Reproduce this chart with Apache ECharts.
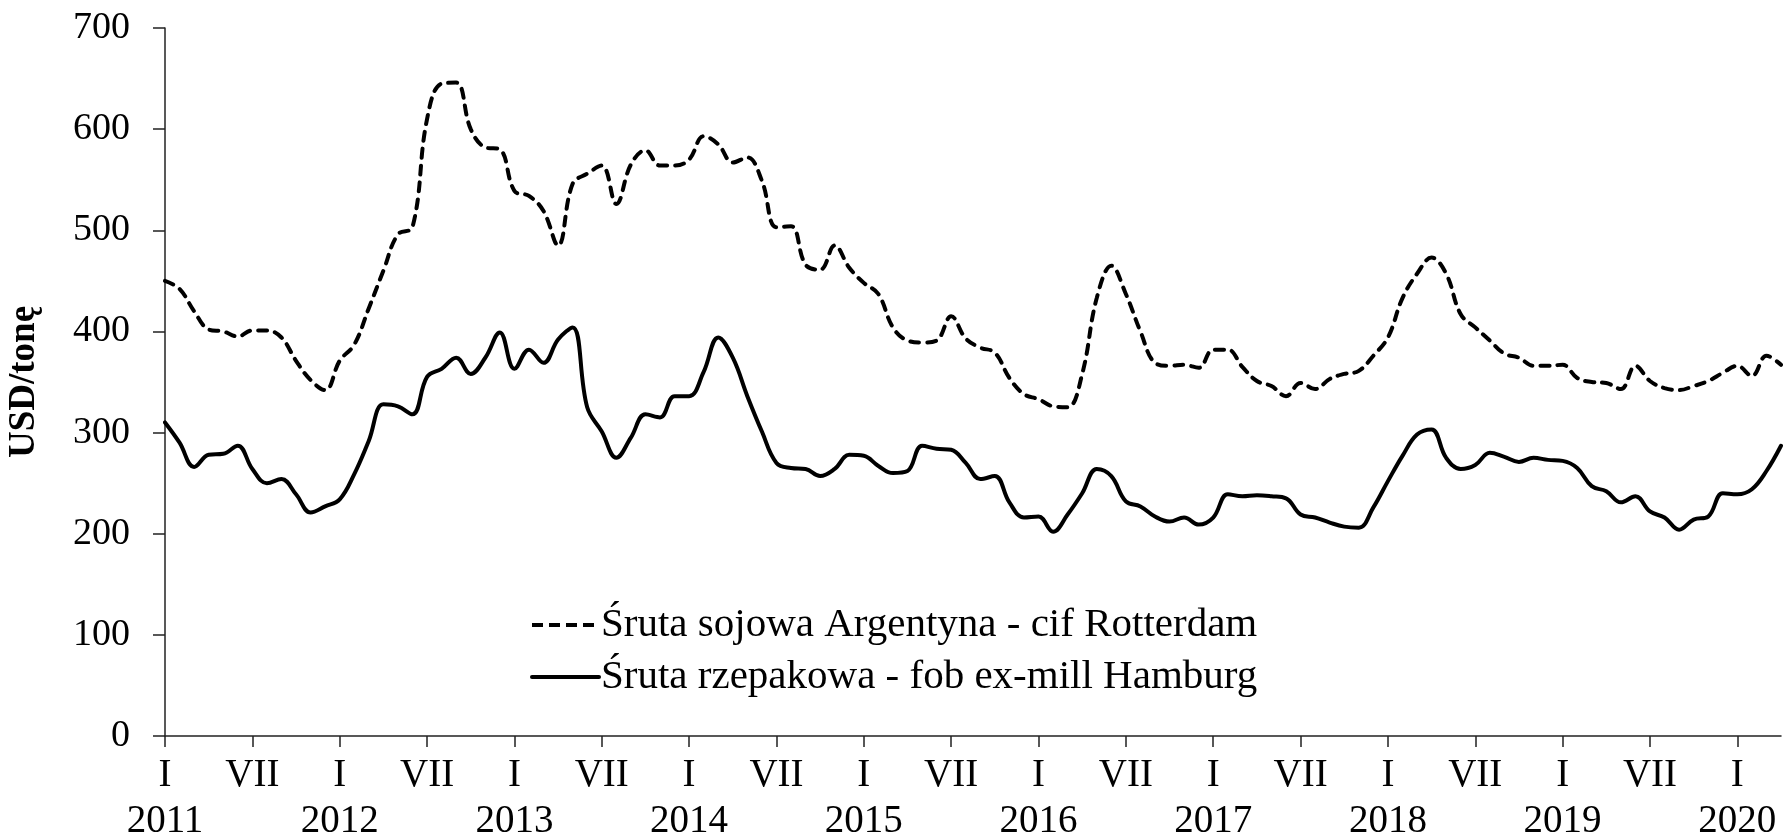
<!DOCTYPE html>
<html>
<head>
<meta charset="utf-8">
<script src="https://cdn.jsdelivr.net/npm/echarts@6/dist/echarts.min.js"></script>
<style>
  html, body { margin: 0; padding: 0; background: #fff; }
  #chart { width: 1783px; height: 836px; }
</style>
</head>
<body>
<div id="chart"></div>
<script>
// miesiące od I 2011 do IV 2020
const years = [2011, 2012, 2013, 2014, 2015, 2016, 2017, 2018, 2019, 2020];
const monthsShown = 112;

// Śruta sojowa Argentyna - cif Rotterdam (USD/t)
const soy = [
  450, 442, 420, 402, 400, 395, 401, 401, 394, 371, 352, 342,
  371, 387, 423, 460, 496, 503, 610, 645, 646, 600, 582, 580,
  539, 534, 519, 485, 546, 556, 564, 526, 565, 579, 564, 564,
  570, 593, 585, 567, 572, 549, 503, 504, 466, 461, 485, 463,
  448, 437, 404, 391, 389, 391, 415, 393, 384, 379, 354, 338,
  333, 326, 325, 358, 433, 465, 437, 400, 369, 366, 367, 364,
  382, 382, 365, 351, 346, 336, 349, 343, 353, 358, 361, 376,
  394, 433, 457, 473, 457, 417, 404, 391, 378, 374, 366, 366,
  367, 354, 350, 349, 343, 366, 351, 344, 342, 346, 351, 359,
  366, 356, 376, 367
];

// Śruta rzepakowa - fob ex-mill Hamburg (USD/t)
const rapeseed = [
  310, 290, 266, 278, 279, 287, 264, 250, 254, 239, 221, 227,
  234, 259, 292, 328, 326, 318, 355, 363, 374, 358, 374, 399,
  363, 382, 369, 392, 404, 325, 301, 275, 295, 318, 315, 336,
  336, 360, 394, 374, 336, 301, 270, 265, 264, 257, 264, 278,
  277, 267, 260, 262, 287, 284, 283, 270, 254, 257, 231, 216,
  217, 202, 219, 240, 264, 257, 232, 227, 217, 212, 216, 209,
  216, 239, 237, 238, 237, 235, 219, 216, 211, 207, 206, 226,
  252, 277, 298, 303, 275, 264, 268, 280, 276, 271, 275, 273,
  272, 265, 247, 242, 231, 237, 222, 216, 204, 214, 217, 240,
  239, 244, 262, 287
];

const seriesNames = [
  'Śruta sojowa Argentyna - cif Rotterdam',
  'Śruta rzepakowa - fob ex-mill Hamburg'
];

const categories = [];
for (const y of years) {
  for (let m = 1; m <= 12; m++) {
    categories.push(y + '-' + (m < 10 ? '0' + m : m));
  }
}
const months = categories.slice(0, monthsShown);

const font = '"Liberation Serif", "Times New Roman", serif';
const axisColor = '#222';

function everyHalfYear(index) {
  return index % 6 === 0;
}

const myChart = echarts.init(document.getElementById('chart'), null, { renderer: 'canvas' });

const option = {
  animation: false,
  backgroundColor: '#fff',
  grid: {
    left: 165,
    right: 2,
    top: 28,
    bottom: 100,
    outerBoundsMode: 'none'
  },
  legend: {
    orient: 'vertical',
    left: 525,
    top: 598,
    itemWidth: 67,
    itemHeight: 14,
    itemGap: 8,
    itemStyle: { color: 'rgba(0,0,0,0)', borderColor: 'rgba(0,0,0,0)', borderWidth: 0 },
    textStyle: {
      fontFamily: font,
      fontSize: 41,
      color: '#000',
      lineHeight: 44,
      padding: [0, 0, 0, -3]
    },
    data: [
      { name: seriesNames[0], lineStyle: { color: '#000', width: 4, type: [11, 6], cap: 'butt' } },
      { name: seriesNames[1], lineStyle: { color: '#000', width: 4, type: 'solid' } }
    ]
  },
  xAxis: {
    type: 'category',
    data: months,
    boundaryGap: false,
    axisLine: { lineStyle: { color: axisColor, width: 1.5 } },
    axisTick: {
      interval: everyHalfYear,
      length: 11,
      lineStyle: { color: axisColor, width: 1.5 }
    },
    axisLabel: {
      interval: everyHalfYear,
      margin: 17,
      fontFamily: font,
      fontSize: 39,
      lineHeight: 46,
      color: '#000',
      formatter: function (value) {
        const parts = value.split('-');
        return parts[1] === '01' ? 'I\n' + parts[0] : 'VII';
      }
    },
    splitLine: { show: false }
  },
  yAxis: {
    type: 'value',
    min: 0,
    max: 700,
    interval: 100,
    name: 'USD/tonę',
    nameLocation: 'middle',
    nameGap: 122,
    nameTextStyle: {
      fontFamily: font,
      fontSize: 37,
      fontWeight: 'bold',
      color: '#000'
    },
    axisLine: { show: true, lineStyle: { color: axisColor, width: 1.5 } },
    axisTick: { show: true, length: 12, lineStyle: { color: axisColor, width: 1.5 } },
    axisLabel: {
      margin: 35,
      fontFamily: font,
      fontSize: 38,
      color: '#000'
    },
    splitLine: { show: false }
  },
  series: [
    {
      name: seriesNames[0],
      type: 'line',
      data: soy,
      smooth: 0.4,
      symbol: 'none',
      lineStyle: { color: '#000', width: 4, type: [9, 8], cap: 'round' },
      itemStyle: { color: '#000' }
    },
    {
      name: seriesNames[1],
      type: 'line',
      data: rapeseed,
      smooth: 0.4,
      symbol: 'none',
      lineStyle: { color: '#000', width: 4, type: 'solid', cap: 'round' },
      itemStyle: { color: '#000' }
    }
  ]
};

myChart.setOption(option);

window.addEventListener('resize', () => {
  myChart.resize();
});
</script>
</body>
</html>
